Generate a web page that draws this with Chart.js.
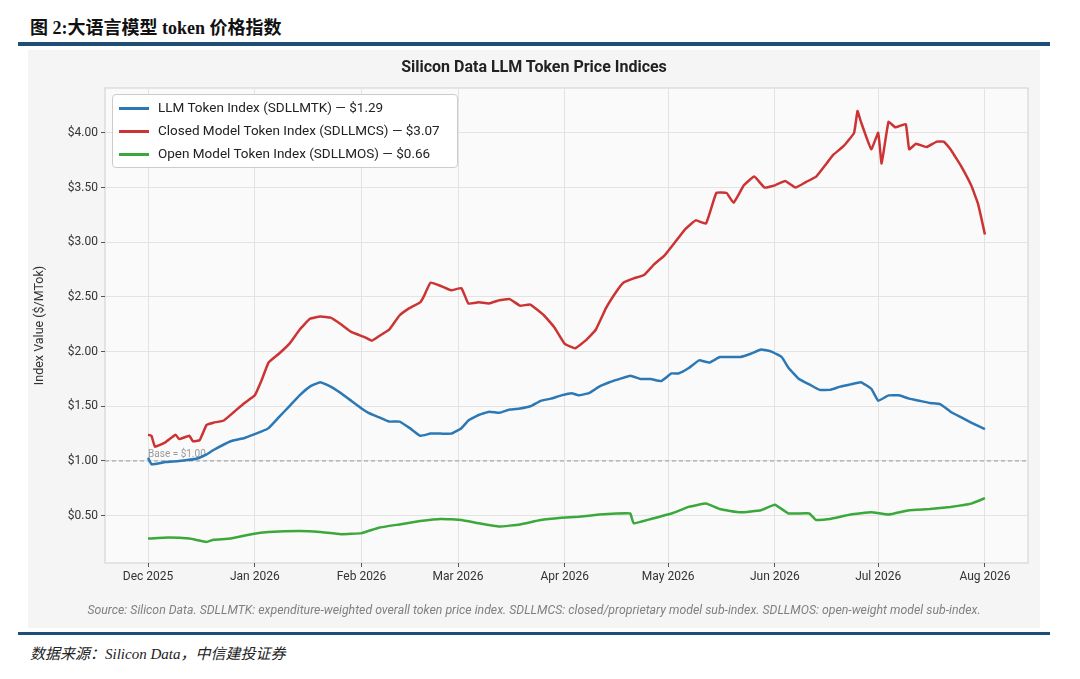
<!DOCTYPE html>
<html lang="zh">
<head>
<meta charset="UTF-8">
<title>Silicon Data LLM Token Price Indices</title>
<script src="https://cdn.jsdelivr.net/npm/chart.js@4"></script>
<style>
  body { margin: 0; width: 1080px; height: 679px; background: #fff; position: relative; font-family: Roboto, "Noto Sans", sans-serif; overflow: hidden; }
  #head { position: absolute; left: 30px; top: 13px; font: bold 18px "Liberation Serif", "Noto Sans CJK SC", serif; color: #111; }
  #rule1 { position: absolute; left: 18px; width: 1032px; top: 42px; height: 4px; background: #1f4e79; }
  #rule2 { position: absolute; left: 18px; width: 1032px; top: 632px; height: 3px; background: #1f4e79; }
  #panel { position: absolute; left: 28px; top: 50px; width: 1012px; height: 578px; background: #f5f5f5; }
  #ctitle { position: absolute; left: 0; right: 0; top: 7px; text-align: center; font-weight: bold; font-size: 16px; color: #222; }
  #src { position: absolute; left: 0; right: 0; top: 553px; text-align: center; font-style: italic; font-size: 12.3px; color: #808080; }
  #legend { position: absolute; left: 84px; top: 44px; width: 344px; height: 72px; background: rgba(255,255,255,0.92); border: 1px solid #ccc; border-radius: 4px; font-size: 13.5px; color: #222; }
  #legend div { position: absolute; left: 45px; }
  #legend span { position: absolute; left: -39px; top: 8px; width: 30px; height: 3px; }
  #foot { position: absolute; left: 30px; top: 642px; font: italic 15px "Liberation Serif", "Noto Sans CJK SC", serif; color: #222; }
  canvas { position: absolute; left: 0; top: 0; }
</style>
</head>
<body>
<div id="head">图 2:大语言模型 token 价格指数</div>
<div id="rule1"></div>
<div id="panel">
  <canvas id="c" width="1012" height="578"></canvas>
  <div id="ctitle">Silicon Data LLM Token Price Indices</div>
  <div id="legend">
    <div style="top:4px"><span style="background:#2c78b4"></span>LLM Token Index (SDLLMTK) — $1.29</div>
    <div style="top:27px"><span style="background:#cc3333"></span>Closed Model Token Index (SDLLMCS) — $3.07</div>
    <div style="top:50px"><span style="background:#3aa83a"></span>Open Model Token Index (SDLLMOS) — $0.66</div>
  </div>
  <div id="src">Source: Silicon Data. SDLLMTK: expenditure-weighted overall token price index. SDLLMCS: closed/proprietary model sub-index. SDLLMOS: open-weight model sub-index.</div>
</div>
<div id="rule2"></div>
<div id="foot">数据来源：Silicon Data，中信建投证券</div>
<script>
// days since 2025-12-01
const monthDays = [0, 31, 62, 90, 121, 151, 182, 212, 243];
const monthLabels = ['Dec 2025', 'Jan 2026', 'Feb 2026', 'Mar 2026', 'Apr 2026', 'May 2026', 'Jun 2026', 'Jul 2026', 'Aug 2026'];

const closedDays = [0,1,2,5,8,9,12,13,15,17,19,22,25,28,31,33,35,38,41,44,47,50,53,56,59,63,65,67,70,73,76,79,80,82,85,88,91,93,96,99,102,105,108,111,115,118,121,124,127,130,133,136,138,141,144,147,150,153,156,159,162,165,168,170,173,176,179,182,185,188,191,194,197,199,202,205,206,207,210,212,213,215,217,220,221,223,226,229,231,233,234,236,239,241,243];
const closedVals = [1.24,1.23,1.13,1.17,1.24,1.20,1.23,1.18,1.19,1.33,1.35,1.37,1.45,1.53,1.60,1.74,1.90,1.98,2.07,2.20,2.30,2.32,2.31,2.25,2.18,2.13,2.10,2.14,2.20,2.33,2.40,2.45,2.50,2.63,2.60,2.56,2.58,2.44,2.45,2.44,2.47,2.48,2.42,2.43,2.33,2.22,2.07,2.03,2.10,2.20,2.40,2.55,2.63,2.67,2.70,2.80,2.88,3.00,3.12,3.20,3.17,3.45,3.45,3.36,3.52,3.60,3.50,3.52,3.56,3.50,3.55,3.60,3.72,3.80,3.88,4.00,4.20,4.10,3.85,4.00,3.72,4.10,4.05,4.08,3.85,3.90,3.87,3.92,3.92,3.85,3.80,3.70,3.52,3.35,3.07];

const llmDays = [0,1,5,9,14,17,19,24,28,33,35,38,41,44,47,50,53,56,59,62,64,67,70,73,76,79,82,85,88,91,93,96,99,102,105,108,111,114,117,120,123,125,128,131,134,137,140,143,146,149,152,154,157,160,163,166,169,172,175,178,181,184,186,189,192,195,198,201,204,207,210,212,215,218,221,224,227,230,233,236,239,243];
const llmVals = [1.03,0.97,0.99,1.00,1.02,1.06,1.10,1.18,1.21,1.27,1.30,1.40,1.50,1.60,1.68,1.72,1.68,1.62,1.55,1.48,1.44,1.40,1.36,1.36,1.30,1.23,1.25,1.25,1.25,1.30,1.37,1.42,1.45,1.44,1.47,1.48,1.50,1.55,1.57,1.60,1.62,1.60,1.62,1.68,1.72,1.75,1.78,1.75,1.75,1.73,1.80,1.80,1.85,1.92,1.90,1.95,1.95,1.95,1.98,2.02,2.00,1.95,1.85,1.75,1.70,1.65,1.65,1.68,1.70,1.72,1.66,1.55,1.60,1.60,1.57,1.55,1.53,1.52,1.45,1.40,1.35,1.29];

const openDays = [0,6,12,17,19,24,30,35,44,50,56,62,67,73,79,85,91,96,102,108,114,120,125,131,136,140,141,146,152,157,162,166,172,178,182,186,192,194,198,204,210,215,221,227,233,239,243];
const openVals = [0.29,0.30,0.29,0.26,0.28,0.29,0.33,0.35,0.36,0.35,0.33,0.34,0.39,0.42,0.45,0.47,0.46,0.43,0.40,0.42,0.46,0.48,0.49,0.51,0.52,0.52,0.43,0.47,0.52,0.58,0.61,0.56,0.53,0.55,0.60,0.52,0.52,0.46,0.47,0.51,0.53,0.51,0.55,0.56,0.58,0.61,0.66];

const pts = (d, v) => d.map((x, i) => ({ x, y: v[i] }));
const line = (label, d, v, color) => ({ label, data: pts(d, v), borderColor: color, borderWidth: 2.5, pointRadius: 0, tension: 0.1, fill: false });

const baseLine = {
  id: 'baseLine',
  beforeDatasetsDraw(chart) {
    const { ctx, chartArea: a, scales: { x, y } } = chart;
    const py = y.getPixelForValue(1);
    ctx.save();
    ctx.strokeStyle = '#999'; ctx.lineWidth = 1; ctx.setLineDash([4, 3]);
    ctx.beginPath(); ctx.moveTo(a.left, py); ctx.lineTo(a.right, py); ctx.stroke();
    ctx.fillStyle = '#999'; ctx.font = '10px Roboto'; ctx.textBaseline = 'bottom';
    ctx.fillText('Base = $1.00', x.getPixelForValue(0), py - 1);
    ctx.restore();
  }
};
const plotBg = {
  id: 'plotBg',
  beforeDraw(chart) {
    const { ctx, chartArea: a } = chart;
    ctx.save(); ctx.fillStyle = '#fafafa';
    ctx.fillRect(a.left, a.top, a.right - a.left, a.bottom - a.top);
    ctx.strokeStyle = '#d0d0d0'; ctx.strokeRect(a.left, a.top, a.right - a.left, a.bottom - a.top);
    ctx.restore();
  }
};

new Chart(document.getElementById('c'), {
  type: 'line',
  data: { datasets: [
    line('LLM Token Index (SDLLMTK) — $1.29', llmDays, llmVals, '#2c78b4'),
    line('Closed Model Token Index (SDLLMCS) — $3.07', closedDays, closedVals, '#cc3333'),
    line('Open Model Token Index (SDLLMOS) — $0.66', openDays, openVals, '#3aa83a')
  ] },
  plugins: [plotBg, baseLine],
  options: {
    responsive: false, animation: false,
    layout: { padding: { top: 38, right: 12, bottom: 35, left: 0 } },
    plugins: { legend: { display: false }, tooltip: { enabled: false } },
    scales: {
      x: {
        type: 'linear', min: -12.5, max: 255.5,
        afterBuildTicks: s => { s.ticks = monthDays.map(v => ({ value: v })); },
        afterFit: s => { s.height = 30; },
        ticks: { callback: v => monthLabels[monthDays.indexOf(v)], color: '#333', font: { size: 12, family: 'Roboto' }, maxRotation: 0 },
        grid: { color: '#e3e3e3', tickColor: '#555', tickLength: 4 },
        border: { display: false }
      },
      y: {
        min: 0.067, max: 4.41,
        afterBuildTicks: s => { s.ticks = [0.5, 1, 1.5, 2, 2.5, 3, 3.5, 4].map(v => ({ value: v })); },
        afterFit: s => { s.width = 77; },
        ticks: { callback: v => '$' + v.toFixed(2), color: '#333', font: { size: 12, family: 'Roboto' } },
        grid: { color: '#e3e3e3', tickColor: '#555', tickLength: 4 },
        border: { display: false },
        title: { display: true, text: 'Index Value ($/MTok)', color: '#333', font: { size: 12.5, family: 'Roboto' } }
      }
    }
  }
});
</script>
</body>
</html>
